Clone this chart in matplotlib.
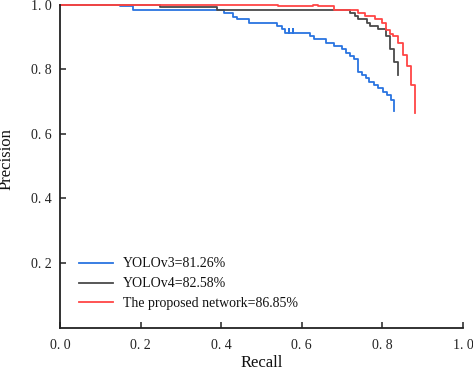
import matplotlib
matplotlib.use("Agg")
import matplotlib.pyplot as plt

plt.rcParams['font.family'] = ['Liberation Serif', 'DejaVu Serif']

# YOLOv3 (blue) step curve: recall where each step starts, precision on that step
v3_recall = [0.0, 0.149, 0.180, 0.407, 0.429, 0.439, 0.469, 0.538, 0.551, 0.558,
             0.568, 0.568, 0.578, 0.578, 0.620, 0.630, 0.660, 0.680, 0.700, 0.710,
             0.720, 0.730, 0.739, 0.749, 0.759, 0.767, 0.779, 0.789, 0.801, 0.811,
             0.821, 0.829, 0.829]
v3_prec = [1.0, 0.995, 0.983, 0.973, 0.962, 0.954, 0.943, 0.933, 0.923, 0.913,
           0.925, 0.913, 0.925, 0.913, 0.904, 0.893, 0.882, 0.872, 0.861, 0.851,
           0.841, 0.830, 0.792, 0.782, 0.772, 0.761, 0.751, 0.741, 0.730, 0.720,
           0.704, 0.704, 0.670]

# YOLOv4 (dark grey)
v4_recall = [0.0, 0.248, 0.390, 0.720, 0.732, 0.739, 0.762, 0.769, 0.789, 0.809,
             0.819, 0.829, 0.839, 0.839]
v4_prec = [1.0, 0.993, 0.983, 0.973, 0.963, 0.954, 0.944, 0.933, 0.923, 0.902,
           0.861, 0.822, 0.822, 0.782]

# Proposed network (red)
pn_recall = [0.0, 0.541, 0.628, 0.640, 0.679, 0.739, 0.757, 0.782, 0.799, 0.809,
             0.819, 0.826, 0.839, 0.851, 0.861, 0.871, 0.881, 0.881]
pn_prec = [1.0, 0.995, 1.0, 0.995, 0.984, 0.974, 0.964, 0.954, 0.943, 0.921,
           0.910, 0.902, 0.881, 0.844, 0.811, 0.751, 0.751, 0.663]

labels = ['YOLOv3=81.26%', 'YOLOv4=82.58%', 'The proposed network=86.85%']
colors = ['#2a74e0', '#4a4a4a', '#ff4545']

x_ticks = [0.0, 0.2, 0.4, 0.6, 0.8, 1.0]
x_ticklabels = ['0. 0', '0. 2', '0. 4', '0. 6', '0. 8', '1. 0']
y_ticks = [0.2, 0.4, 0.6, 0.8, 1.0]
y_ticklabels = ['0. 2', '0. 4', '0. 6', '0. 8', '1. 0']

fig = plt.figure(figsize=(4.73, 3.71), dpi=100)
ax = fig.add_axes([60/473, 1 - 327.5/371, 403/473, 323/371])

for r, p, lab, c in zip([v3_recall, v4_recall, pn_recall],
                        [v3_prec, v4_prec, pn_prec], labels, colors):
    ax.plot(r, p, drawstyle='steps-post', color=c, lw=1.3, label=lab, clip_on=False)

ax.set_xlim(0, 1.0)
ax.set_ylim(0, 1.0)
ax.set_xticks(x_ticks)
ax.set_xticklabels(x_ticklabels)
ax.set_yticks(y_ticks)
ax.set_yticklabels(y_ticklabels)
ax.tick_params(direction='in', length=4, width=1.1, labelsize=10, color='#222222',
               labelcolor='#222222')
ax.tick_params(axis='x', pad=8)
ax.tick_params(axis='y', pad=6)

for s in ['top', 'right']:
    ax.spines[s].set_visible(False)
for s in ['left', 'bottom']:
    ax.spines[s].set_linewidth(1.3)
    ax.spines[s].set_color('#222222')

ax.set_xlabel('Recall', fontsize=12, color='#111111')
ax.set_ylabel('Precision', fontsize=12, color='#111111')
ax.xaxis.set_label_coords(0.5, -0.084)
ax.yaxis.set_label_coords(-0.112, 0.523)

leg = ax.legend(loc='center left', bbox_to_anchor=(0.047, 0.135), frameon=False,
                fontsize=10, handlelength=2.45, handletextpad=0.7, labelspacing=0.5,
                borderpad=0, borderaxespad=0)
for t in leg.get_texts():
    t.set_color('#111111')

fig.savefig('out.png', dpi=100)
